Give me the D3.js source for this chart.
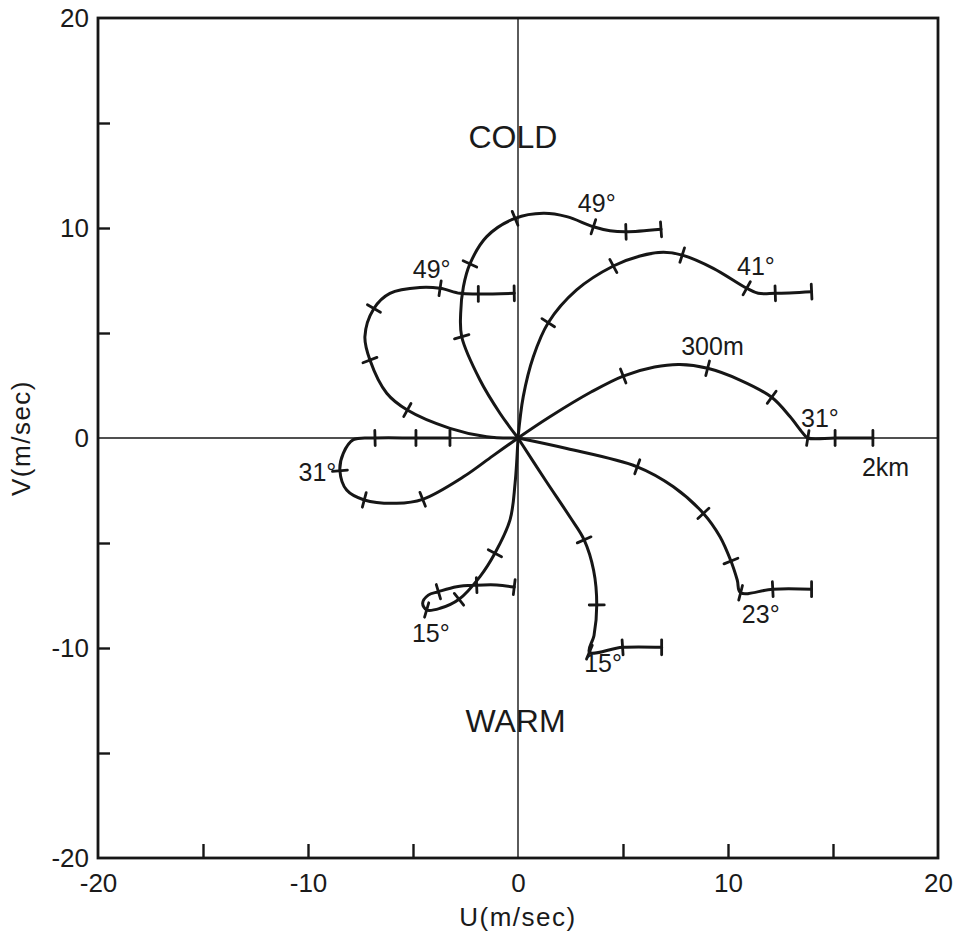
<!DOCTYPE html>
<html>
<head>
<meta charset="utf-8">
<script src="https://cdn.jsdelivr.net/npm/d3@7"></script>
<style>
  html, body { margin: 0; padding: 0; background: #fff; }
  svg { display: block; }
  text { font-family: "Liberation Sans", Arial, sans-serif; fill: #1a1a1a; }
</style>
</head>
<body>
<svg id="chart" width="953" height="938"></svg>
<script>
// ---- data (u, v in m/sec; third value 1 = height tick mark) ----
const curveA = [[0,0],[1.5,1.0],[3.5,2.2],[5.01,2.95,1],[6.5,3.38],[7.7,3.5],[9.03,3.32,1],[10.57,2.76],[12.08,1.94,1],[12.95,1.02],[13.55,0.25],[13.8,0,1],[15.1,0,1],[16.9,0,1]];
const curveB = [[0,0],[0.25,1.97],[0.73,3.87],[1.44,5.49,1],[2.79,7.05],[4.54,8.19,1],[5.81,8.67],[6.92,8.84],[7.82,8.71,1],[9.3,8.08],[10.89,7.13,1],[11.44,6.89],[12.25,6.89,1],[13.98,6.97,1]];
const curveC = [[0,0],[-0.86,1.18],[-1.81,2.76],[-2.68,4.82,1],[-2.73,5.94],[-2.6,7.2],[-2.29,8.29,1],[-1.49,9.59],[-0.14,10.46,1],[1.21,10.7],[2.32,10.54],[3.59,10.06,1],[4.38,9.87],[5.14,9.82,1],[6.81,9.94,1]];
const curveD = [[0,0],[-1.49,0.06],[-3.24,0.46],[-5.27,1.33,1],[-6.25,2.13],[-7.05,3.71,1],[-7.29,4.83],[-6.86,6.17,1],[-6.1,6.89],[-4.67,7.17],[-3.71,7.13,1],[-2.76,6.89],[-1.89,6.86,1],[-0.18,6.89,1]];
const curveE = [[0,0],[-1.2,-0.85],[-2.6,-1.85],[-4.54,-2.92,1],[-5.78,-3.11],[-7.32,-2.95,1],[-8.16,-2.48],[-8.48,-1.56,1],[-8.32,-0.73],[-7.84,-0.08],[-6.81,0,1],[-4.86,0,1],[-3.24,0,1]];
const curveF = [[0,0],[-0.14,-2.16],[-0.38,-3.9],[-1.1,-5.49,1],[-1.81,-6.6],[-2.81,-7.68,1],[-3.71,-8.11],[-4.35,-8.19,1],[-4.54,-7.87],[-4.27,-7.48],[-3.79,-7.32,1],[-2.92,-7.08],[-1.97,-7.01,1],[-1.01,-7.0],[-0.18,-7.1,1]];
const curveG = [[0,0],[1.3,-2.0],[2.5,-3.8],[3.15,-4.85,1],[3.6,-6.3],[3.75,-7.95,1],[3.62,-9.4],[3.4,-10.2,1],[4.98,-9.97,1],[6.84,-9.97,1]];
const curveH = [[0,0],[2.32,-0.5],[5.68,-1.37,1],[7.4,-2.32],[8.83,-3.59,1],[9.62,-4.7],[10.14,-5.86,1],[10.44,-6.76],[10.6,-7.37,1],[12.13,-7.2,1],[13.98,-7.2,1]];
const curves = [curveA, curveB, curveC, curveD, curveE, curveF, curveG, curveH];

const labelText = ["COLD","WARM","49°","49°","41°","300m","31°","2km","31°","15°","15°","23°"];
const labelU    = [-0.24,-0.12,3.75,-4.11,11.33,9.26,14.38,17.5,-9.55,-4.15,4.05,11.56];
const labelV    = [14.35,-13.43,11.21,8.05,8.19,4.38,0.95,-1.4,-1.6,-9.29,-10.7,-8.38];
const labelSize = [32,32,25,25,25,25,25,25,25,25,25,25];

const majorTicks = [-20,-10,0,10,20];
const minorTicks = [-15,-10,-5,5,10,15];
const xTitle = "U(m/sec)";
const yTitle = "V(m/sec)";

// ---- layout ----
const L = 98, R = 938, T = 18, B = 858;
const svg = d3.select("#chart");
const x = d3.scaleLinear().domain([-20,20]).range([L,R]);
const y = d3.scaleLinear().domain([-20,20]).range([B,T]);
const ink = "#161616";
const fmt = d => String(d);

// cross lines through origin
svg.append("line").attr("x1",x(-20)).attr("x2",x(20)).attr("y1",y(0)).attr("y2",y(0))
  .attr("stroke",ink).attr("stroke-width",1.4);
svg.append("line").attr("x1",x(0)).attr("x2",x(0)).attr("y1",y(-20)).attr("y2",y(20))
  .attr("stroke",ink).attr("stroke-width",1.4);

// minor inward ticks via axes
const xTickAxis = d3.axisBottom(x).tickValues(minorTicks).tickSize(-14).tickFormat("");
const gx = svg.append("g").attr("transform",`translate(0,${B})`).call(xTickAxis);
gx.select(".domain").remove();
gx.selectAll("line").attr("stroke",ink).attr("stroke-width",2.4);

const yTickAxis = d3.axisLeft(y).tickValues(minorTicks).tickSize(-12).tickFormat("");
const gy = svg.append("g").attr("transform",`translate(${L},0)`).call(yTickAxis);
gy.select(".domain").remove();
gy.selectAll("line").attr("stroke",ink).attr("stroke-width",2.4);

// labels
const xLab = d3.axisBottom(x).tickValues(majorTicks).tickSize(0).tickPadding(16).tickFormat(fmt);
const gxl = svg.append("g").attr("transform",`translate(0,${B})`).call(xLab);
gxl.select(".domain").remove();
gxl.selectAll("text").style("font-size","26px").style("font-family","'Liberation Sans', Arial, sans-serif").attr("fill",ink);

const yLab = d3.axisLeft(y).tickValues(majorTicks).tickSize(0).tickPadding(9).tickFormat(fmt);
const gyl = svg.append("g").attr("transform",`translate(${L},0)`).call(yLab);
gyl.select(".domain").remove();
gyl.selectAll("text").style("font-size","26px").style("font-family","'Liberation Sans', Arial, sans-serif").attr("fill",ink);

// frame
svg.append("rect").attr("x",L).attr("y",T).attr("width",R-L).attr("height",B-T)
  .attr("fill","none").attr("stroke",ink).attr("stroke-width",2.8);

// axis titles
svg.append("text").attr("x",(L+R)/2).attr("y",926).attr("text-anchor","middle")
  .style("font-size","26px").style("letter-spacing","1.5px").text(xTitle);
svg.append("text").attr("transform",`translate(30,${y(0)}) rotate(-90)`).attr("text-anchor","middle")
  .style("font-size","26px").style("letter-spacing","1.5px").text(yTitle);

// curves
const line = d3.line().x(d => x(d[0])).y(d => y(d[1])).curve(d3.curveCatmullRom.alpha(0.5));
const gc = svg.append("g");
curves.forEach(c => {
  gc.append("path").attr("d", line(c)).attr("fill","none").attr("stroke",ink)
    .attr("stroke-width",3).attr("stroke-linejoin","round").attr("stroke-linecap","round");
  c.forEach((p,i) => {
    if (!p[2]) return;
    const a = c[Math.max(0,i-1)], b = c[Math.min(c.length-1,i+1)];
    let dx = x(b[0]) - x(a[0]), dy = y(b[1]) - y(a[1]);
    const len = Math.hypot(dx,dy) || 1;
    const nx = -dy/len*7.5, ny = dx/len*7.5;
    const px = x(p[0]), py = y(p[1]);
    gc.append("line").attr("x1",px-nx).attr("y1",py-ny).attr("x2",px+nx).attr("y2",py+ny)
      .attr("stroke",ink).attr("stroke-width",2.8).attr("stroke-linecap","round");
  });
});

// annotations
labelText.forEach((t,i) => {
  svg.append("text").attr("x",x(labelU[i])).attr("y",y(labelV[i])).attr("dy","0.36em")
    .attr("text-anchor","middle").style("font-size",labelSize[i]+"px").text(t);
});
</script>
</body>
</html>
